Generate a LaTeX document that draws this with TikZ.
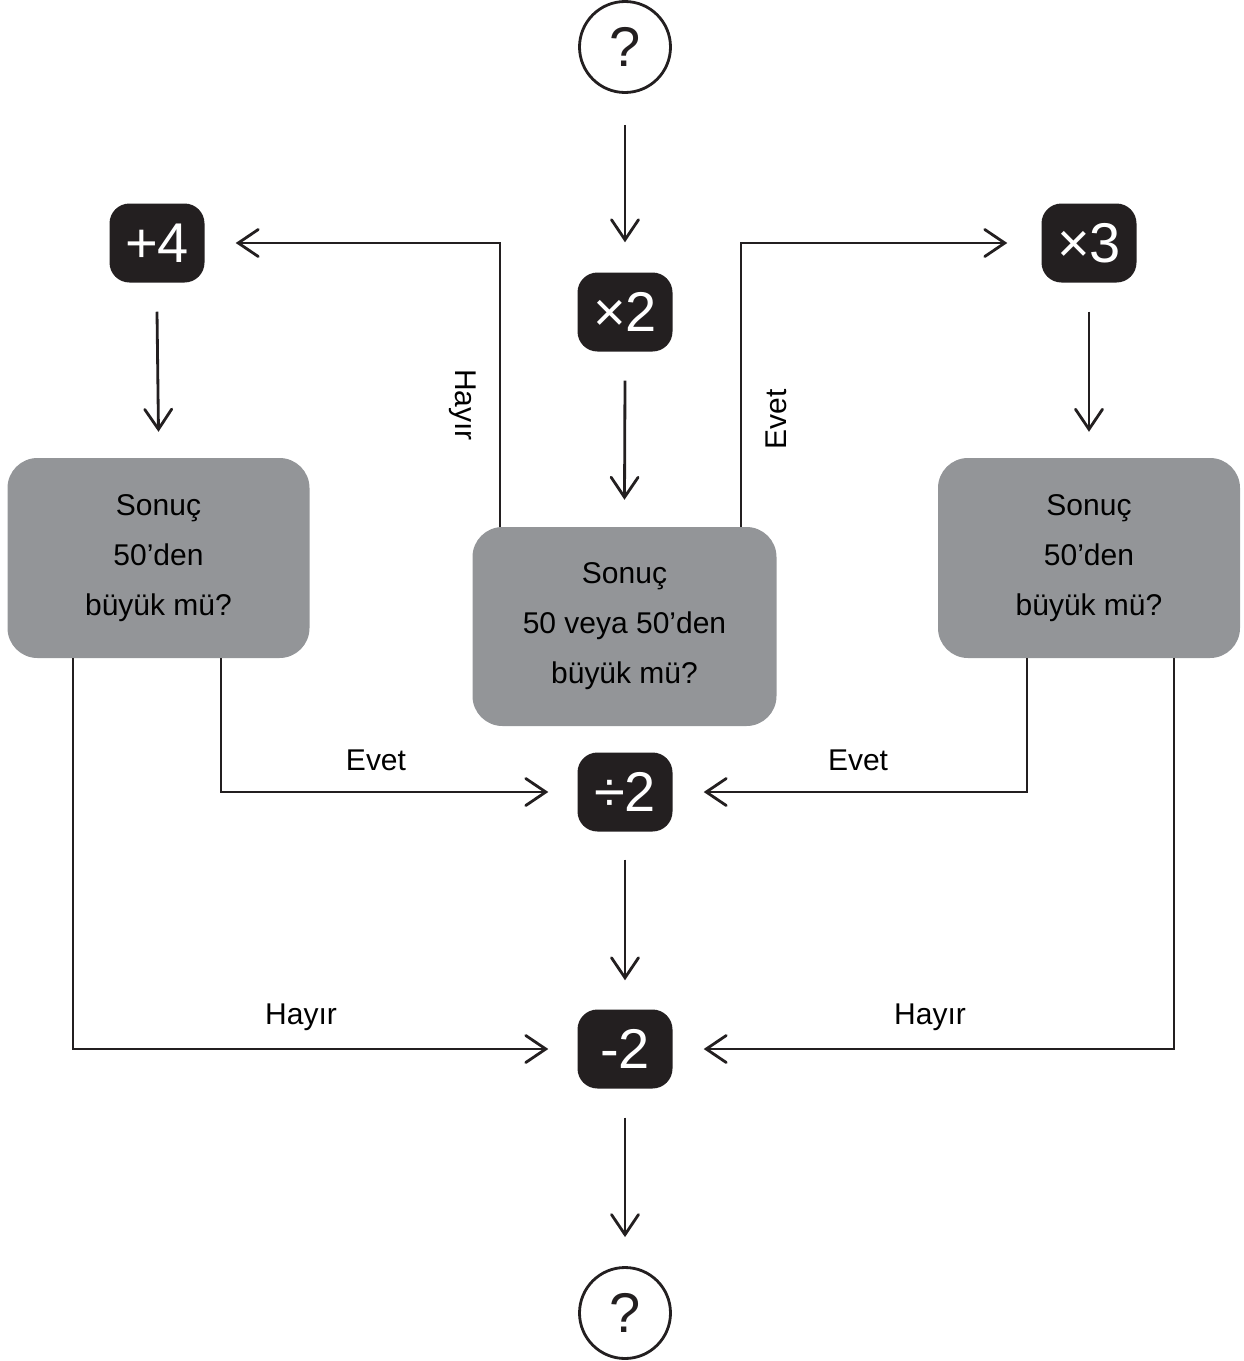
\documentclass[tikz,border=0pt]{standalone}
\usepackage{fontspec}
\setmainfont{Liberation Sans}
\usetikzlibrary{arrows.meta}
\definecolor{boxblack}{HTML}{231F20}
\definecolor{boxgray}{HTML}{939598}
\tikzset{
  opbox/.style={fill=boxblack, text=white, rounded corners=20*0.03cm,
    minimum width=95*0.03cm, minimum height=79*0.03cm, inner sep=0pt,
    font=\fontsize{47.8pt}{50pt}\selectfont},
  qcircle/.style={circle, draw=boxblack, line width=2.4pt, minimum size=91*0.03cm,
    inner sep=0pt, text=boxblack, font=\fontsize{47.8pt}{50pt}\selectfont},
  graybox/.style={fill=boxgray, rounded corners=30*0.03cm, inner sep=0pt,
    minimum width=302*0.03cm, minimum height=200*0.03cm, align=center,
    text=black, font=\fontsize{25.6pt}{42.7pt}\selectfont},
  lbl/.style={text=black, inner sep=0pt, font=\fontsize{25.6pt}{30pt}\selectfont},
  arr/.style={draw=boxblack, line width=2.4pt,
    -{Straight Barb[length=20*0.03cm, width=27*0.03cm, line cap=round]}},
  conn/.style={draw=boxblack, line width=2.4pt}
}
\begin{document}
\begin{tikzpicture}[x=0.03cm, y=-0.03cm]
\useasboundingbox (0,0) rectangle (1244,1361);

% nodes
\node[qcircle] (q1) at (625,47) {?};
\node[opbox] (m2) at (625,312) {×2};
\node[opbox] (p4) at (157,243) {+4};
\node[opbox] (m3) at (1089,243) {×3};
\node[opbox] (d2) at (625,792) {÷2};
\node[opbox] (s2) at (625,1049) {-2};
\node[qcircle] (q2) at (625,1313) {?};

\node[graybox] (L) at (158.5,558) {Sonuç\\50’den\\büyük mü?};
\node[graybox, minimum width=304*0.03cm, minimum height=199*0.03cm] (C) at (624.5,626.5) {Sonuç\\50 veya 50’den\\büyük mü?};
\node[graybox] (R) at (1089,558) {Sonuç\\50’den\\büyük mü?};

% helper x positions
\coordinate (hx) at (500,0);
\coordinate (ex) at (741,0);
\coordinate (lx1) at (221,0);
\coordinate (lx2) at (73,0);
\coordinate (rx1) at (1027,0);
\coordinate (rx2) at (1174,0);

% straight arrows
\draw[arr] ([yshift=-31*0.03cm]q1.south) -- ([yshift=30*0.03cm]m2.north);
\draw[arr] ([yshift=-29*0.03cm]m2.south) -- ([yshift=27*0.03cm]C.north);
\draw[arr] ([yshift=-29*0.03cm]p4.south) -- ([yshift=26*0.03cm]L.north);
\draw[arr] ([yshift=-29*0.03cm]m3.south) -- ([yshift=26*0.03cm]R.north);
\draw[arr] ([yshift=-28*0.03cm]d2.south) -- ([yshift=29*0.03cm]s2.north);
\draw[arr] ([yshift=-29*0.03cm]s2.south) -- ([yshift=29*0.03cm]q2.north);

% elbow connectors
\draw[arr] (C.north -| hx) |- ([xshift=31*0.03cm]p4.east);
\draw[arr] (C.north -| ex) |- ([xshift=-34*0.03cm]m3.west);
\draw[arr] (L.south -| lx1) |- ([xshift=-29*0.03cm]d2.west);
\draw[arr] (L.south -| lx2) |- ([xshift=-29*0.03cm]s2.west);
\draw[arr] (R.south -| rx1) |- ([xshift=31*0.03cm]d2.east);
\draw[arr] (R.south -| rx2) |- ([xshift=31*0.03cm]s2.east);

% labels
\node[lbl, rotate=-90] (lh1) at (463,405) {Hayır};
\node[lbl, rotate=90] (le1) at (776,419) {Evet};
\node[lbl] (le2) at (376,760) {Evet};
\node[lbl] (lh2) at (301,1017) {Hayır};
\node[lbl] (le3) at (858,760) {Evet};
\node[lbl] (lh3) at (930,1017) {Hayır};
\end{tikzpicture}
\end{document}
